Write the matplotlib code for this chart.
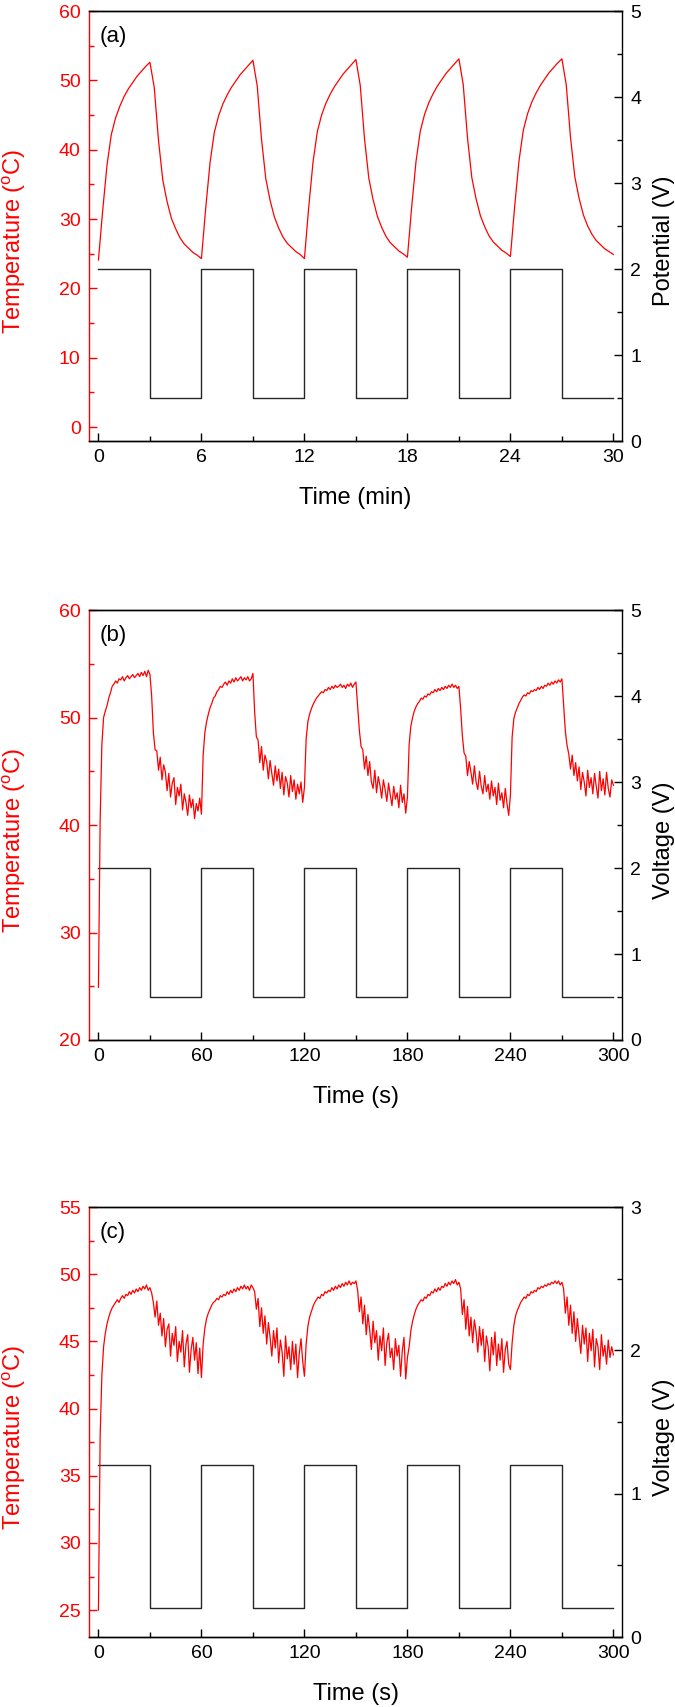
import numpy as np
import matplotlib
matplotlib.use('Agg')
import matplotlib.pyplot as plt
from matplotlib.ticker import MultipleLocator

plt.rcParams['font.family'] = ['Liberation Sans', 'DejaVu Sans']

# Dados. ======================================================================

# (a) temperatura a cada 0.25 min.
temp_a = [24.1, 31.3, 37.8, 42.2, 44.6, 46.3, 47.7, 48.8, 49.7, 50.6, 51.3, 52.0, 52.6,
          49.0, 41.3, 35.6, 32.5, 30.1, 28.6, 27.3, 26.4, 25.8, 25.2, 24.8, 24.3,
          31.6, 38.1, 42.5, 44.9, 46.6, 47.9, 49.0, 49.9, 50.8, 51.5, 52.2, 52.9,
          49.2, 41.5, 35.8, 32.7, 30.3, 28.7, 27.4, 26.5, 25.9, 25.3, 24.9, 24.3,
          31.7, 38.2, 42.6, 45.0, 46.7, 48.0, 49.1, 50.0, 50.9, 51.6, 52.3, 53.0,
          49.3, 41.6, 35.9, 32.8, 30.4, 28.8, 27.5, 26.6, 26.0, 25.4, 25.0, 24.5,
          31.8, 38.3, 42.7, 45.1, 46.8, 48.1, 49.2, 50.1, 51.0, 51.7, 52.4, 53.1,
          49.4, 41.7, 36.0, 32.9, 30.5, 28.9, 27.6, 26.7, 26.1, 25.5, 25.1, 24.6,
          31.9, 38.4, 42.8, 45.2, 46.9, 48.2, 49.3, 50.2, 51.1, 51.8, 52.5, 53.1,
          49.4, 41.8, 36.1, 33.0, 30.6, 29.0, 27.8, 26.9, 26.3, 25.7, 25.3, 24.9]
t_a = np.arange(len(temp_a)) * 0.25
switch_a = [0, 3, 6, 9, 12, 15, 18, 21, 24, 27, 30]
volt_a = [2, 0.5, 2, 0.5, 2, 0.5, 2, 0.5, 2, 0.5, 0.5]

# (b) temperatura a cada 1 s.
temp_b = [24.9, 40.5, 47.5, 50.0, 50.6, 51.1, 51.8, 52.3, 52.9, 53.1, 53.4, 53.2, 53.6, 53.5, 53.8, 53.4,
          53.7, 53.9, 53.6, 53.8, 54.0, 53.7, 53.9, 54.1, 53.8, 54.2, 53.9, 54.3, 53.8, 54.4, 54.0,
          52.0, 48.6, 47.0, 46.9, 45.1, 46.3, 44.2, 45.6, 44.9, 43.2, 44.8, 42.6, 43.9, 44.4, 41.9,
          43.5, 42.7, 43.8, 41.4, 42.9, 42.1, 40.9, 42.8, 41.6, 42.4, 40.6, 42.0, 41.3, 42.5, 41.0,
          46.5, 48.6, 49.6, 50.3, 50.9, 51.3, 51.8, 52.0, 52.4, 52.6, 52.9, 52.8, 53.1, 53.3, 53.0,
          53.4, 53.2, 53.6, 53.3, 53.7, 53.4, 53.6, 53.8, 53.4, 53.7, 53.5, 53.8, 53.4, 53.6, 54.1,
          50.5, 48.2, 47.9, 45.8, 47.3, 45.1, 46.5, 45.9, 44.3, 46.0, 44.8, 43.7, 45.5, 44.1, 45.2,
          43.4, 44.9, 42.8, 44.5, 43.9, 42.6, 44.6, 43.1, 44.2, 42.4, 43.8, 42.9, 44.0, 42.1, 43.5,
          48.0, 49.6, 50.3, 50.8, 51.2, 51.5, 51.8, 52.0, 52.2, 52.4, 52.3, 52.6, 52.5, 52.8, 52.6,
          52.9, 52.7, 53.0, 52.8, 52.9, 53.1, 52.8, 53.0, 52.7, 53.1, 52.9, 53.2, 52.8, 53.1, 53.3,
          51.0, 48.8, 47.3, 47.0, 45.2, 46.4, 44.6, 45.9, 44.0, 43.4, 45.1, 43.0, 44.5, 43.7, 42.5,
          44.2, 43.3, 42.2, 43.9, 42.8, 41.8, 43.6, 42.4, 43.0, 41.6, 43.7, 42.1, 42.9, 41.1, 42.6,
          47.5, 49.2, 50.0, 50.6, 51.0, 51.3, 51.5, 51.8, 51.7, 52.0, 51.9, 52.2, 52.1, 52.4, 52.3,
          52.6, 52.4, 52.7, 52.5, 52.8, 52.6, 52.9, 52.7, 53.0, 52.8, 53.1, 52.8, 53.0, 52.7, 52.9,
          50.8, 48.3, 46.7, 46.4, 44.6, 45.9, 44.9, 43.8, 45.5, 44.0, 43.3, 45.0, 43.6, 42.9, 44.6,
          43.1, 43.8, 42.4, 44.1, 42.7, 43.5, 41.9, 43.9, 42.3, 43.0, 41.6, 43.4, 42.0, 40.9, 42.8,
          48.2, 49.9, 50.5, 50.9, 51.3, 51.6, 51.9, 52.1, 52.0, 52.3, 52.2, 52.5, 52.4, 52.6, 52.5,
          52.8, 52.6, 52.9, 52.7, 53.0, 52.9, 53.2, 53.0, 53.3, 53.1, 53.4, 53.2, 53.5, 53.3, 53.6,
          51.2, 48.7, 47.4, 46.6, 45.2, 46.5, 44.6, 45.8, 44.1, 45.4, 43.3, 44.9, 44.0, 42.7, 45.1,
          43.5, 44.4, 42.9, 44.8, 43.6, 42.5, 45.0, 43.2, 44.3, 42.8, 44.9, 43.4, 42.6, 44.2, 43.7]
t_b = np.arange(len(temp_b))
switch_b = [0, 30, 60, 90, 120, 150, 180, 210, 240, 270, 300]
volt_b = [2, 0.5, 2, 0.5, 2, 0.5, 2, 0.5, 2, 0.5, 0.5]

# (c) temperatura a cada 1 s.
temp_c = [25.0, 38.0, 42.5, 44.6, 45.6, 46.3, 46.8, 47.2, 47.5, 47.7, 47.9, 48.1, 47.9, 48.2, 48.4, 48.2,
          48.5, 48.4, 48.7, 48.5, 48.8, 48.6, 48.9, 48.7, 49.0, 48.8, 49.1, 48.9, 49.2, 48.8, 49.0,
          48.6, 47.9, 46.8, 48.0, 46.2, 47.1, 45.4, 46.7, 44.6, 45.9, 46.3, 43.9, 45.6, 44.7, 46.1,
          43.5, 45.0, 44.2, 45.8, 43.1, 44.8, 45.5, 42.7, 44.4, 45.3, 43.6, 44.9, 42.6, 44.5, 42.3,
          44.8, 46.0, 46.7, 47.1, 47.4, 47.7, 47.9, 48.0, 48.2, 48.1, 48.4, 48.3, 48.5, 48.4, 48.7,
          48.5, 48.8, 48.6, 48.9, 48.7, 49.0, 48.8, 49.1, 48.9, 49.2, 48.9, 49.1, 48.8, 49.2, 49.0,
          48.7, 47.4, 48.2, 46.1, 47.5, 45.6, 46.9, 44.8, 46.4, 45.3, 43.9, 45.8, 44.5, 46.0, 43.4,
          45.1, 44.2, 42.4, 45.4, 43.7, 44.6, 42.9, 45.0, 43.3, 44.8, 42.3, 44.1, 45.2, 43.5, 42.4,
          44.8, 46.1, 46.8, 47.2, 47.6, 47.9, 48.1, 48.3, 48.2, 48.5, 48.4, 48.7, 48.6, 48.8, 48.7,
          49.0, 48.8, 49.1, 48.9, 49.2, 49.0, 49.3, 49.1, 49.4, 49.2, 49.5, 49.2, 49.4, 49.3, 49.5,
          48.8, 47.2, 48.3, 46.3, 47.7, 45.5, 47.0, 45.9, 44.4, 46.5, 44.9, 45.8, 43.6, 45.4, 44.3,
          46.0, 43.2, 44.9, 45.6, 43.8, 44.5, 42.9, 45.2, 43.9, 44.7, 42.4, 44.3, 45.3, 42.2, 43.8,
          44.6, 45.8, 46.5, 47.0, 47.4, 47.7, 47.9, 48.1, 48.0, 48.3, 48.2, 48.5, 48.4, 48.7, 48.6,
          48.9, 48.7, 49.0, 48.8, 49.1, 49.0, 49.3, 49.1, 49.4, 49.2, 49.5, 49.3, 49.6, 49.2, 49.4,
          48.9, 47.0, 48.1, 45.9, 47.6, 45.4, 46.8, 44.9, 46.6, 45.7, 44.2, 46.1, 44.7, 45.9, 43.5,
          45.4, 44.6, 42.8, 45.3, 44.0, 45.7, 43.2, 44.8, 43.6, 45.2, 42.7, 44.4, 45.0, 43.3, 42.9,
          44.9, 46.2, 46.9, 47.3, 47.6, 47.9, 48.1, 48.3, 48.2, 48.5, 48.4, 48.7, 48.6, 48.8, 48.7,
          49.0, 48.9, 49.1, 49.0, 49.2, 49.1, 49.3, 49.2, 49.4, 49.3, 49.5, 49.3, 49.5, 49.2, 49.4,
          48.9, 47.1, 48.3, 46.2, 47.7, 45.6, 47.2, 45.0, 46.7, 45.4, 44.1, 46.2, 44.8, 46.0, 43.5,
          45.6, 44.3, 45.9, 43.1, 45.2, 44.6, 42.9, 45.5, 43.9, 44.7, 43.3, 45.1, 43.8, 44.6, 44.0]
t_c = np.arange(len(temp_c))
switch_c = [0, 30, 60, 90, 120, 150, 180, 210, 240, 270, 300]
volt_c = [1.2, 0.2, 1.2, 0.2, 1.2, 0.2, 1.2, 0.2, 1.2, 0.2, 0.2]

# Figura. =====================================================================

fig = plt.figure(figsize=(6.75, 17.07), dpi=100)
fig.set_facecolor('w')

left, width, height = 89 / 675, 533 / 675, 430 / 1707
bottoms = [1 - 441 / 1707, 1 - 1040 / 1707, 1 - 1637 / 1707]

panels = [
    dict(t=t_a, temp=temp_a, sw=switch_a, v=volt_a, tag='(a)', xlabel='Time (min)',
         rlabel='Potential (V)', xlim=(-0.55, 30.5), xmaj=6, ylim=(-2, 60), ymaj=10,
         rlim=(0, 5)),
    dict(t=t_b, temp=temp_b, sw=switch_b, v=volt_b, tag='(b)', xlabel='Time (s)',
         rlabel='Voltage (V)', xlim=(-5.5, 305), xmaj=60, ylim=(20, 60), ymaj=10,
         rlim=(0, 5)),
    dict(t=t_c, temp=temp_c, sw=switch_c, v=volt_c, tag='(c)', xlabel='Time (s)',
         rlabel='Voltage (V)', xlim=(-5.5, 305), xmaj=60, ylim=(23, 55), ymaj=5,
         rlim=(0, 3)),
]

red = '#ff0000'
dark = '#262626'

for p, b in zip(panels, bottoms):
    ax = fig.add_axes([left, b, width, height])
    ax2 = ax.twinx()

    ax2.step(p['sw'], p['v'], where='post', color=dark, linewidth=1.0)
    ax.plot(p['t'], p['temp'], color=red, linewidth=0.9)
    ax.set_zorder(ax2.get_zorder() + 1)
    ax.patch.set_visible(False)

    ax.set_xlim(p['xlim'])
    ax.set_ylim(p['ylim'])
    ax2.set_ylim(p['rlim'])

    ax.xaxis.set_major_locator(MultipleLocator(p['xmaj']))
    ax.xaxis.set_minor_locator(MultipleLocator(p['xmaj'] / 2))
    ax.yaxis.set_major_locator(MultipleLocator(p['ymaj']))
    ax.yaxis.set_minor_locator(MultipleLocator(p['ymaj'] / 2))
    ax2.yaxis.set_major_locator(MultipleLocator(1))
    ax2.yaxis.set_minor_locator(MultipleLocator(0.5))

    ax.tick_params(axis='x', which='both', direction='in', top=False, labelsize=14,
                   pad=6, width=1.0, colors='black')
    ax.tick_params(axis='y', which='both', direction='in', right=False, labelsize=14,
                   pad=6, width=1.0, colors=red)
    ax2.tick_params(axis='y', which='both', direction='in', labelsize=14, pad=6,
                    width=1.0, colors='black')
    for a in (ax, ax2):
        a.tick_params(which='major', length=6)
        a.tick_params(which='minor', length=3.5)

    for s in ax.spines.values():
        s.set_linewidth(1.0)
        s.set_color('black')
    ax.spines['left'].set_color(red)
    ax.spines['right'].set_visible(False)
    ax2.spines['left'].set_visible(False)
    for s in ax2.spines.values():
        s.set_linewidth(1.0)

    ax.set_ylabel('Temperature ($\\mathregular{^{o}}$C)', color=red, fontsize=17)
    ax.yaxis.set_label_coords(-0.114, 0.465)
    ax2.set_ylabel(p['rlabel'], color='black', fontsize=17)
    ax2.yaxis.set_label_coords(1.058, 0.465)
    ax.set_xlabel(p['xlabel'], fontsize=17)
    ax.xaxis.set_label_coords(0.5, -0.107)

    ax.text(0.019, 0.94, p['tag'], transform=ax.transAxes, fontsize=16,
            ha='left', va='center')

plt.savefig('out.png', dpi=100)
